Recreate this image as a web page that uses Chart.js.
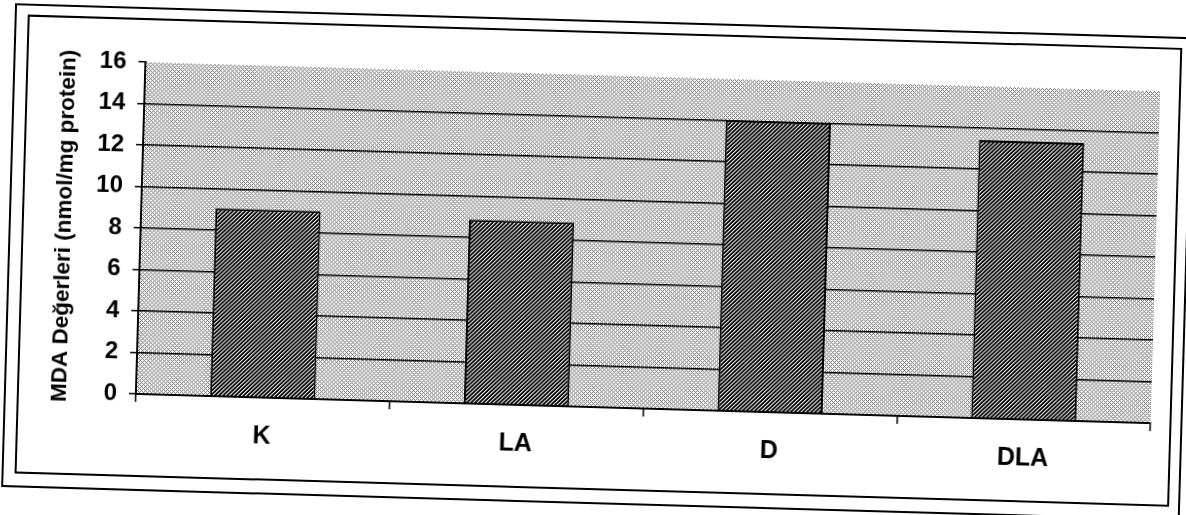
<!DOCTYPE html>
<html><head><meta charset="utf-8">
<script src="https://cdn.jsdelivr.net/npm/chart.js@4.4.1/dist/chart.umd.min.js"></script>
<style>
html,body{margin:0;padding:0;background:#fff;overflow:hidden;width:1186px;height:515px;}
#page{position:absolute;left:0;top:0;width:1186px;height:515px;transform:rotate(1.65deg);transform-origin:593px 257.5px;}
#outer{position:absolute;left:8px;top:20px;width:1179px;height:484px;border:2px solid #000;box-sizing:border-box;}
#inner{position:absolute;left:21px;top:31px;width:1155px;height:459px;border:2px solid #000;box-sizing:border-box;}
#wrap{position:absolute;left:0;top:0;width:1186px;height:515px;}
</style></head>
<body>
<div id="page"><div id="outer"></div><div id="inner"></div><div id="wrap"><canvas id="c"></canvas></div></div>
<script>
const categories = ['K', 'LA', 'D', 'DLA'];
const mdaValues = [9.05, 8.85, 14.0, 13.4];
const yTicks = [0, 2, 4, 6, 8, 10, 12, 14, 16];
const yTitle = 'MDA Değerleri (nmol/mg protein)';

const canvas = document.getElementById('c');
const mainCtx = canvas.getContext('2d');

function makePattern(matrix, palette) {
  const t = document.createElement('canvas');
  t.width = matrix[0].length; t.height = matrix.length;
  const tc = t.getContext('2d');
  matrix.forEach((row, y) => row.forEach((v, x) => { tc.fillStyle = palette[v]; tc.fillRect(x, y, 1, 1); }));
  return mainCtx.createPattern(t, 'repeat');
}
const stipple = makePattern(
  [[1,0,1,0],[0,0,0,1],[1,0,1,0],[0,1,0,0]],
  ['#ffffff', '#707070']
);
const hatch = makePattern(
  [[0,0,2,3],[0,2,3,0],[2,3,0,0],[3,0,0,2]],
  ['#000000', '#000000', '#ffffff', '#6e6e6e']
);

const plotBg = {
  id: 'plotBg',
  beforeDraw(chart) {
    const { ctx, chartArea: a } = chart;
    ctx.save();
    ctx.fillStyle = stipple;
    ctx.fillRect(a.left, a.top, a.right - a.left, a.bottom - a.top);
    ctx.restore();
  }
};

const font = (size) => ({ family: "'Liberation Sans', Arial, sans-serif", size: size, weight: 'bold' });

new Chart(canvas, {
  type: 'bar',
  data: {
    labels: categories,
    datasets: [{
      data: mdaValues,
      backgroundColor: hatch,
      borderColor: '#000',
      borderWidth: 2,
      categoryPercentage: 1,
      barPercentage: 0.415
    }]
  },
  options: {
    responsive: true,
    maintainAspectRatio: false,
    animation: false,
    devicePixelRatio: 1,
    layout: { padding: { left: 0, top: 75, right: 31, bottom: 38 } },
    plugins: { legend: { display: false }, tooltip: { enabled: false } },
    scales: {
      x: {
        offset: true,
        grid: { offset: true, drawOnChartArea: false, drawTicks: true, tickLength: 8, color: '#000', lineWidth: 1.5 },
        border: { color: '#000', width: 2 },
        ticks: { color: '#000', font: font(25), padding: 16 },
        afterFit(s) { s.height = 70; }
      },
      y: {
        min: 0, max: 16,
        afterBuildTicks(s) { s.ticks = yTicks.map(v => ({ value: v })); },
        ticks: { color: '#000', font: font(24), padding: 12 },
        grid: {
          color: (c) => (c.tick && c.tick.value === 16) ? 'rgba(0,0,0,0)' : '#000',
          tickColor: '#000', lineWidth: 1.5, tickLength: 7
        },
        border: { color: '#000', width: 2 },
        title: { display: true, text: yTitle, color: '#000', font: font(22.5), padding: { top: 50, bottom: 0 } },
        afterFit(s) { s.width = 140; }
      }
    }
  },
  plugins: [plotBg]
});
</script>
</body></html>
